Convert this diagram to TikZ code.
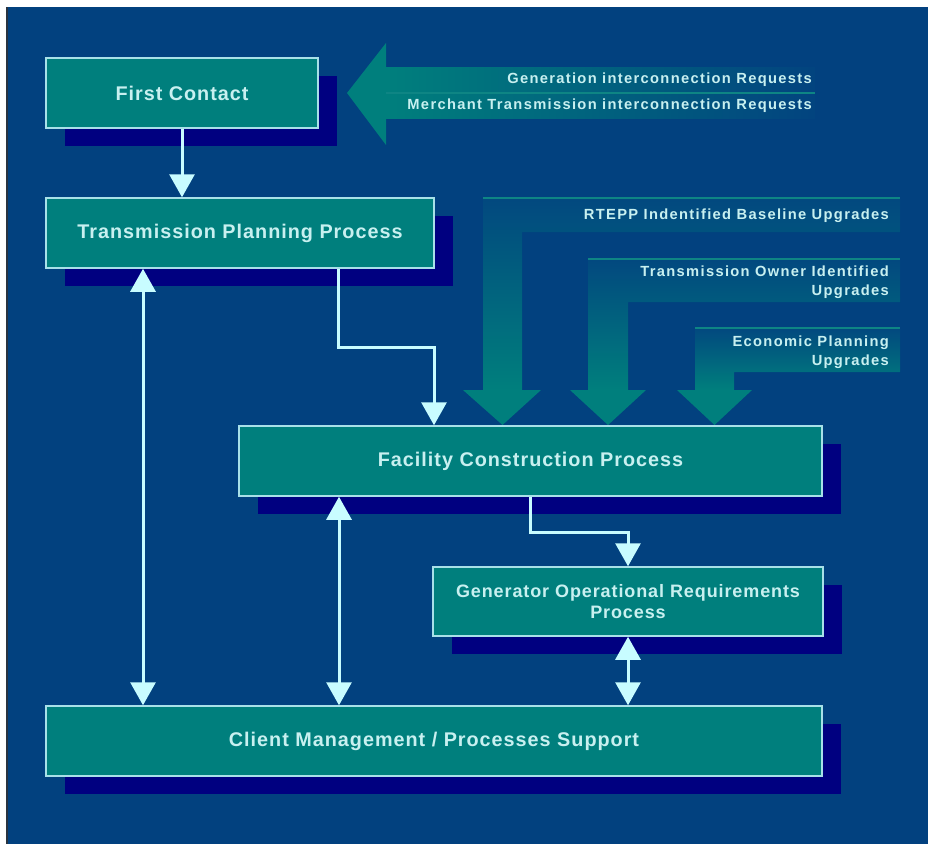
\documentclass[tikz,border=0pt]{standalone}
\usepackage{fontspec}
\setmainfont{Liberation Sans}
\newfontfamily\boxfont[LetterSpace=5]{Liberation Sans}
\newfontfamily\smfont[LetterSpace=9]{Liberation Sans}
\usetikzlibrary{arrows.meta,shadows,calc}
\definecolor{bgblue}{HTML}{02417F}
\definecolor{boxteal}{HTML}{007F7D}
\definecolor{navyshadow}{HTML}{000080}
\definecolor{boxline}{HTML}{A8E0E8}
\definecolor{arrcol}{HTML}{C8FCFF}
\definecolor{txt}{HTML}{C8F0F0}
\definecolor{tealline}{HTML}{0E8584}
\definecolor{edgeline}{HTML}{2A3440}
\begin{document}
\begin{tikzpicture}[x=1pt,y=-1pt,
  box/.style={draw=boxline, line width=1.5pt, fill=boxteal, text=txt,
    minimum height=70pt, inner sep=0pt, align=center,
    font=\boxfont\bfseries\fontsize{19.8}{22}\selectfont,
    drop shadow={shadow xshift=19pt, shadow yshift=-18pt, fill=navyshadow, opacity=1}},
  arr/.style={draw=arrcol, line width=3pt, -{Triangle[width=25pt,length=23pt]}},
  darr/.style={draw=arrcol, line width=3pt, {Triangle[width=25pt,length=23pt]}-{Triangle[width=25pt,length=23pt]}},
  lbl/.style={text=txt, font=\smfont\bfseries\fontsize{14.7}{19}\selectfont, anchor=east, inner sep=0pt, align=right},
  band/.style={top color=bgblue!88!boxteal, bottom color=boxteal},
  bandline/.style={draw=tealline, line width=1.5pt}]
\useasboundingbox (0,0) rectangle (928,844);
\fill[white] (0,0) rectangle (928,844);
\fill[bgblue] (7,7) rectangle (928,844);
\draw[edgeline, line width=1.5pt] (7,7) -- (7,844);

% big left arrow (requests)
\shade[left color=boxteal, middle color=bgblue!55!boxteal, right color=bgblue!96!boxteal] (386,67) rectangle (815,118);
\fill[boxteal] (386,43) -- (347,93) -- (386,145) -- cycle;
\draw[bandline] (386,93) -- (815,93);

% downward upgrade arrows
\shade[band] (483,198) -- (900,198) -- (900,232) -- (522,232) -- (522,390) -- (483,390) -- cycle;
\fill[boxteal] (463,390) -- (541,390) -- (502.5,425) -- cycle;
\draw[bandline] (483,198) -- (900,198);

\shade[band] (588,259) -- (900,259) -- (900,302) -- (628,302) -- (628,390) -- (588,390) -- cycle;
\fill[boxteal] (570,390) -- (646,390) -- (608,425) -- cycle;
\draw[bandline] (588,259) -- (900,259);

\shade[band] (695,328) -- (900,328) -- (900,372) -- (734,372) -- (734,390) -- (695,390) -- cycle;
\fill[boxteal] (677,390) -- (752,390) -- (714.5,425) -- cycle;
\draw[bandline] (695,328) -- (900,328);

% labels
\node[lbl] (g1) at (812,79.5) {Generation interconnection Requests};
\node[lbl] (g2) at (812,106) {Merchant Transmission interconnection Requests};
\node[lbl] (u1) at (889,216) {RTEPP Indentified Baseline Upgrades};
\node[lbl] (u2) at (889,282) {Transmission Owner Identified\\Upgrades};
\node[lbl] (u3) at (889,352) {Economic Planning\\Upgrades};

% boxes
\node[box, minimum width=272pt] (fc) at (182,93) {First Contact};
\node[box, minimum width=388pt] (tpp) at (240,233) {Transmission Planning Process};
\node[box, minimum width=583pt] (fcp) at (530.5,461) {Facility Construction Process};
\node[box, minimum width=390pt, minimum height=69pt,
  font=\boxfont\bfseries\fontsize{18}{20.5}\selectfont] (gorp) at (628,601.5) {Generator Operational Requirements\\Process};
\node[box, minimum width=776pt] (cm) at (434,741) {Client Management / Processes Support};

% connectors
\coordinate (t1) at ([xshift=-97pt]tpp.south);
\coordinate (f1) at ([xshift=-191.5pt]fcp.south);
\draw[arr] (fc.south) -- (fc.south |- tpp.north);
\draw[arr] ([xshift=98pt]tpp.south) -- ++(0,79) -- ++(96,0) -- ([xshift=-96.5pt]fcp.north);
\draw[arr] (fcp.south) -- ++(0,36) -| (gorp.north);
\draw[darr] (t1) -- (t1 |- cm.north);
\draw[darr] (f1) -- (f1 |- cm.north);
\draw[darr] (gorp.south) -- (gorp.south |- cm.north);
\end{tikzpicture}
\end{document}
